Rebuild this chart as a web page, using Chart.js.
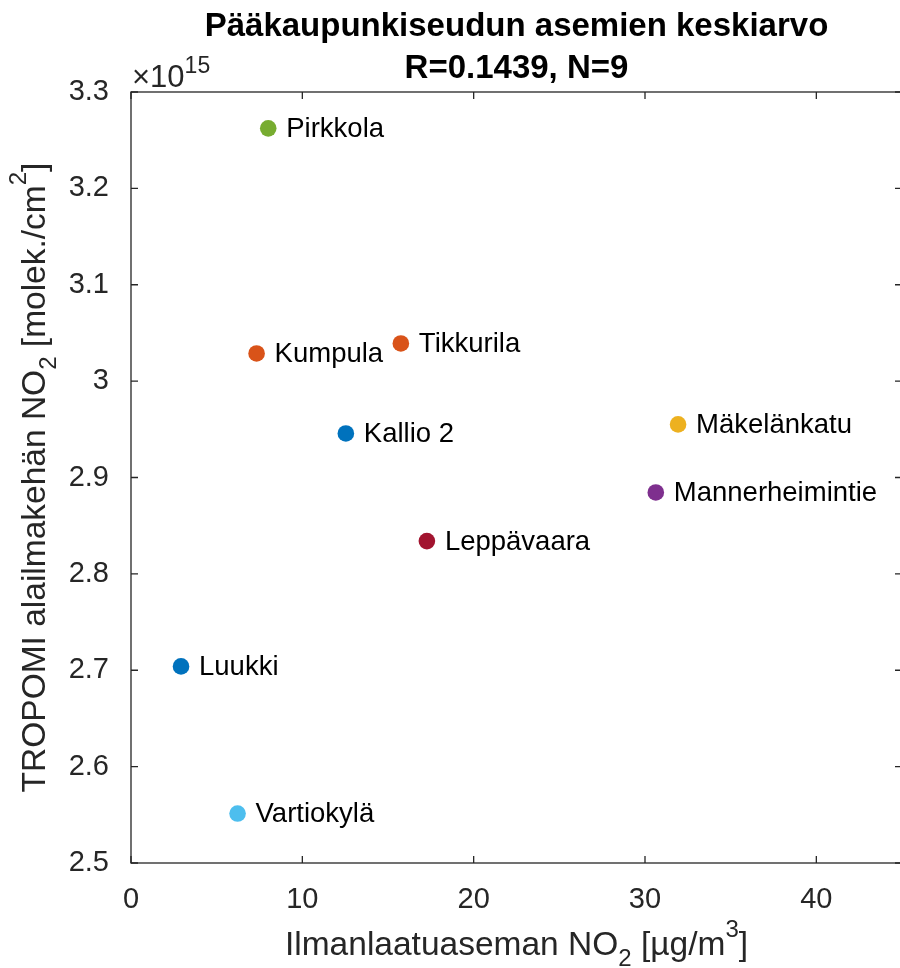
<!DOCTYPE html>
<html>
<head>
<meta charset="utf-8">
<script src="https://cdn.jsdelivr.net/npm/chart.js@4"></script>
<style>
    html, body { margin: 0; padding: 0; background: #fff; overflow: hidden; }
    canvas { display: block; }
</style>
</head>
<body>
<canvas id="scatterChart" width="902" height="968"></canvas>
<script>
// station names and measured values (y in units of 10^15 molek./cm2)
var stations = ['Pirkkola', 'Kumpula', 'Tikkurila', 'Kallio 2', 'Mäkelänkatu', 'Mannerheimintie', 'Leppävaara', 'Luukki', 'Vartiokylä'];
var groundNO2 = [8.01, 7.33, 15.75, 12.54, 31.93, 30.63, 17.27, 2.92, 6.22];
var tropomiNO2 = [3.2623, 3.0287, 3.0391, 2.9457, 2.9551, 2.8845, 2.8340, 2.7040, 2.5513];
var pointColors = ['#77AC30', '#D95319', '#D95319', '#0072BD', '#EDB120', '#7E2F8E', '#A2142F', '#0072BD', '#4DBEEE'];
var xTicks = [0, 10, 20, 30, 40];
var yTicks = [2.5, 2.6, 2.7, 2.8, 2.9, 3, 3.1, 3.2, 3.3];

var FONT = '"Liberation Sans", Arial, Helvetica, sans-serif';
var AXIS_COLOR = '#262626';

// draws text with sub/superscript parts: parts = [[text, shift], ...]
function drawRichText(ctx, parts, x, y, size, small) {
    var pos = x;
    parts.forEach(function(p) {
        var s = p[1] === 0 ? size : small;
        ctx.font = s + 'px ' + FONT;
        ctx.fillText(p[0], pos, y + p[1]);
        pos += ctx.measureText(p[0]).width;
    });
}
function richWidth(ctx, parts, size, small) {
    var w = 0;
    parts.forEach(function(p) {
        var s = p[1] === 0 ? size : small;
        ctx.font = s + 'px ' + FONT;
        w += ctx.measureText(p[0]).width;
    });
    return w;
}

// box, inner ticks, point labels, titles
var decorations = {
    id: 'decorations',
    afterDraw: function(chart) {
        var ctx = chart.ctx;
        var area = chart.chartArea;
        var xs = chart.scales.x, ys = chart.scales.y;
        ctx.save();

        // axes box
        ctx.strokeStyle = AXIS_COLOR;
        ctx.lineWidth = 1.3;
        ctx.strokeRect(area.left, area.top, area.right - area.left, area.bottom - area.top);

        // inner ticks on all four sides
        ctx.beginPath();
        xTicks.forEach(function(v) {
            var px = xs.getPixelForValue(v);
            ctx.moveTo(px, area.bottom); ctx.lineTo(px, area.bottom - 7);
            ctx.moveTo(px, area.top); ctx.lineTo(px, area.top + 7);
        });
        yTicks.forEach(function(v) {
            var py = ys.getPixelForValue(v);
            ctx.moveTo(area.left, py); ctx.lineTo(area.left + 7, py);
            ctx.moveTo(area.right, py); ctx.lineTo(area.right - 7, py);
        });
        ctx.stroke();

        // station names next to points
        var meta = chart.getDatasetMeta(0);
        ctx.fillStyle = '#000';
        ctx.font = '27.5px ' + FONT;
        ctx.textAlign = 'left';
        ctx.textBaseline = 'middle';
        meta.data.forEach(function(pt, i) {
            ctx.fillText(stations[i], pt.x + 18, pt.y + 1);
        });

        // exponent above y axis
        ctx.fillStyle = AXIS_COLOR;
        ctx.textBaseline = 'alphabetic';
        drawRichText(ctx, [['\u00d7', 0], ['10', 0], ['15', -14]], area.left + 1, 87, 31, 23);

        // title
        ctx.fillStyle = '#000';
        ctx.textAlign = 'center';
        ctx.font = 'bold 33px ' + FONT;
        var cx = (area.left + area.right) / 2;
        ctx.fillText('Pääkaupunkiseudun asemien keskiarvo', cx, 36);
        ctx.fillText('R=0.1439, N=9', cx, 78);

        // x axis title
        ctx.textAlign = 'left';
        ctx.fillStyle = AXIS_COLOR;
        var xParts = [['Ilmanlaatuaseman NO', 0], ['2', 11], [' [µg/m', 0], ['3', -18], [']', 0]];
        var xw = richWidth(ctx, xParts, 33.5, 24);
        drawRichText(ctx, xParts, cx - xw / 2, 955, 33.5, 24);

        // y axis title
        var yParts = [['TROPOMI alailmakehän NO', 0], ['2', 11], [' [molek./cm', 0], ['2', -19], [']', 0]];
        var yw = richWidth(ctx, yParts, 33.5, 24);
        ctx.translate(45, (area.top + area.bottom) / 2);
        ctx.rotate(-Math.PI / 2);
        drawRichText(ctx, yParts, -yw / 2, 0, 33.5, 24);

        ctx.restore();
    }
};

document.addEventListener('DOMContentLoaded', function() {
    var points = groundNO2.map(function(x, i) {
        return { x: x, y: tropomiNO2[i] };
    });

    var ctx = document.getElementById('scatterChart').getContext('2d');
    var scatterChart = new Chart(ctx, {
        type: 'scatter',
        data: {
            datasets: [{
                label: 'Asemat',
                data: points,
                pointBackgroundColor: pointColors,
                pointBorderWidth: 0,
                pointRadius: 8.3,
                pointHoverRadius: 8.3
            }]
        },
        options: {
            responsive: false,
            animation: false,
            layout: {
                autoPadding: false,
                padding: { top: 92, right: 0, left: 0, bottom: 0 }
            },
            plugins: {
                legend: { display: false },
                tooltip: { enabled: false }
            },
            scales: {
                x: {
                    type: 'linear',
                    min: 0,
                    max: 45,
                    afterFit: function(scale) {
                        scale.height = 105;
                        scale.paddingLeft = 0;
                        scale.paddingRight = 0;
                    },
                    afterBuildTicks: function(scale) {
                        scale.ticks = xTicks.map(function(v) { return { value: v }; });
                    },
                    grid: { display: false },
                    border: { display: false },
                    ticks: {
                        padding: 12,
                        color: AXIS_COLOR,
                        font: { family: FONT, size: 29 },
                        maxRotation: 0,
                        callback: function(v) { return String(v); }
                    }
                },
                y: {
                    type: 'linear',
                    min: 2.5,
                    max: 3.3,
                    afterFit: function(scale) {
                        scale.width = 131;
                        scale.paddingTop = 0;
                        scale.paddingBottom = 0;
                    },
                    afterBuildTicks: function(scale) {
                        scale.ticks = yTicks.map(function(v) { return { value: v }; });
                    },
                    grid: { display: false },
                    border: { display: false },
                    ticks: {
                        padding: 14,
                        color: AXIS_COLOR,
                        font: { family: FONT, size: 29 },
                        callback: function(v) { return String(+v.toFixed(1)); }
                    }
                }
            }
        },
        plugins: [decorations]
    });
});
</script>
</body>
</html>
